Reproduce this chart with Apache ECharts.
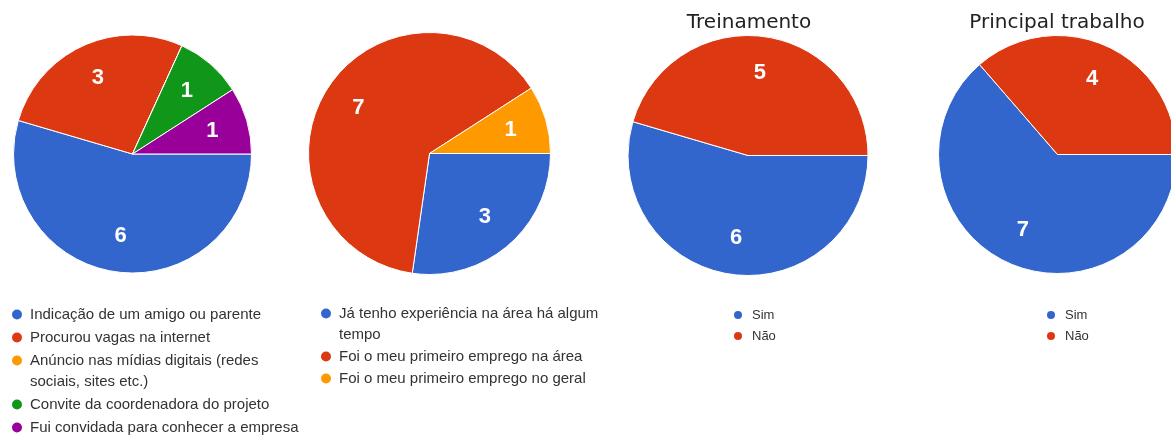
<!DOCTYPE html>
<html>
<head>
<meta charset="utf-8">
<script src="https://cdn.jsdelivr.net/npm/echarts@6/dist/echarts.min.js"></script>
<style>
  html, body { margin: 0; padding: 0; background: #fff; }
  #chart { width: 1171px; height: 438px; }
</style>
</head>
<body>
<div id="chart"></div>
<script>
// dados
const origemCats = [
  'Indicação de um amigo ou parente',
  'Procurou vagas na internet',
  'Anúncio nas mídias digitais (redes sociais, sites etc.)',
  'Convite da coordenadora do projeto',
  'Fui convidada para conhecer a empresa'
];
const origemVals = [6, 3, 0, 1, 1];

const experienciaCats = [
  'Já tenho experiência na área há algum tempo',
  'Foi o meu primeiro emprego na área',
  'Foi o meu primeiro emprego no geral'
];
const experienciaVals = [3, 7, 1];

const simNao = ['Sim', 'Não'];
const treinamentoVals = [6, 5];
const principalVals = [7, 4];

const titulos = ['Treinamento', 'Principal trabalho'];

// cores padrão do Google
const palette = ['#3366cc', '#dc3912', '#ff9900', '#109618', '#990099'];

// itens de legenda que quebram em duas linhas: o ícone fica na primeira linha
const quebra = [origemCats[2], experienciaCats[0]];

const chart = echarts.init(document.getElementById('chart'));

function pieSeries(center, radius, names, vals, colors) {
  return {
    type: 'pie',
    center: center,
    radius: radius,
    startAngle: 0,
    clockwise: true,
    silent: true,
    itemStyle: { borderColor: '#fff', borderWidth: 1 },
    label: {
      show: true,
      position: 'inside',
      color: '#fff',
      fontSize: 22,
      fontWeight: 'bold',
      fontFamily: 'Liberation Sans, Arial, sans-serif',
      formatter: function (p) { return p.value ? String(p.value) : ''; }
    },
    // empurra os rótulos um pouco mais para fora, como no original
    labelLayout: function (p) {
      const lx = p.labelRect.x + p.labelRect.width / 2;
      const ly = p.labelRect.y + p.labelRect.height / 2;
      return { dx: (lx - center[0]) * 0.33, dy: (ly - center[1]) * 0.33 };
    },
    labelLine: { show: false },
    emphasis: { disabled: true },
    data: names.map(function (n, i) {
      return { name: n, value: vals[i], itemStyle: { color: colors[i] } };
    })
  };
}

const legendText = {
  fontFamily: 'Liberation Sans, Arial, sans-serif',
  fontSize: 15,
  color: '#333',
  lineHeight: 21,
  overflow: 'break'
};
const legendFmt = function (name) {
  return (quebra.indexOf(name) >= 0 ? '\n' : '') + name;
};
const titleText = { fontFamily: 'DejaVu Sans', fontSize: 20, fontWeight: 'normal', color: '#222' };
const smallText = { fontFamily: 'Liberation Sans, Arial, sans-serif', fontSize: 13, color: '#333', lineHeight: 16 };

chart.setOption({
  animation: false,
  title: [{
    text: titulos[0], left: 749, top: 13, padding: 0, textAlign: 'center', textStyle: titleText
  }, {
    text: titulos[1], left: 1057, top: 13, padding: 0, textAlign: 'center', textStyle: titleText
  }],
  legend: [{
    orient: 'vertical',
    left: 10,
    top: 304,
    padding: 0,
    icon: 'circle',
    itemWidth: 16,
    itemHeight: 12,
    itemGap: 2,
    formatter: legendFmt,
    textStyle: Object.assign({ width: 320 }, legendText),
    data: origemCats.slice(0, 2)
  }, {
    orient: 'vertical',
    left: 10,
    top: 329,
    padding: 0,
    icon: 'circle',
    itemWidth: 16,
    itemHeight: 12,
    itemGap: 2,
    formatter: legendFmt,
    textStyle: Object.assign({ width: 320 }, legendText),
    data: [{ name: origemCats[2], textStyle: { width: 270 } }].concat(origemCats.slice(3))
  }, {
    orient: 'vertical',
    left: 319,
    top: 282,
    padding: 0,
    icon: 'circle',
    itemWidth: 16,
    itemHeight: 12,
    itemGap: 1,
    formatter: legendFmt,
    textStyle: Object.assign({ width: 300 }, legendText),
    data: experienciaCats
  }, {
    orient: 'vertical',
    left: 732,
    top: 307,
    padding: 0,
    icon: 'circle',
    itemWidth: 18,
    itemHeight: 10,
    itemGap: 5,
    textStyle: smallText,
    data: simNao
  }, {
    orient: 'vertical',
    left: 1045,
    top: 307,
    padding: 0,
    icon: 'circle',
    itemWidth: 18,
    itemHeight: 10,
    itemGap: 5,
    textStyle: smallText,
    data: simNao
  }],
  series: [
    pieSeries([132.5, 154], 119, origemCats, origemVals, palette),
    pieSeries([429.5, 153.5], 121, experienciaCats, experienciaVals, [palette[0], palette[1], palette[2]]),
    pieSeries([748, 155.5], 120, simNao, treinamentoVals, [palette[0], palette[1]]),
    pieSeries([1057.5, 154.5], 119, simNao, principalVals, [palette[0], palette[1]])
  ]
});
</script>
</body>
</html>
